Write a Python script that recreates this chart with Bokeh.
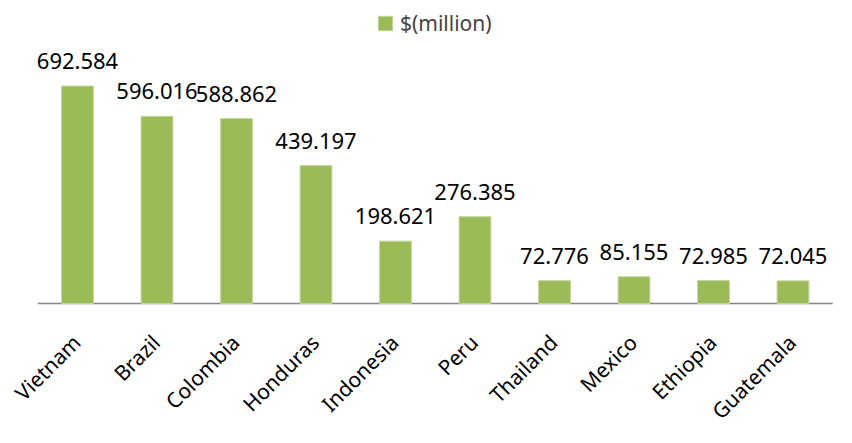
from bokeh.plotting import figure
from bokeh.models import ColumnDataSource, Legend, LegendItem, Range1d
from bokeh.core.properties import value
from bokeh.embed import file_html
from bokeh.resources import INLINE
import math

countries = ["Vietnam", "Brazil", "Colombia", "Honduras", "Indonesia", "Peru",
             "Thailand", "Mexico", "Ethiopia", "Guatemala"]
values = [692.584, 596.016, 588.862, 439.197, 198.621, 276.385,
          72.776, 85.155, 72.985, 72.045]
series_name = "$(million)"

FONT = "Noto Sans"
n = len(countries)
idx = list(range(n))
src = ColumnDataSource(dict(x=idx, name=countries, top=values,
                            label=[f"{v:.3f}" for v in values], zero=[0] * n))

W, H = 836, 427
STEP, C0 = 79.5, 77.0          # pixel spacing of categories, pixel centre of first
BASE, PXU = 303.0, 0.314        # baseline pixel row, pixels per unit
x_start = -C0 / STEP
y_end = BASE / PXU
p = figure(x_range=Range1d(x_start, x_start + W / STEP),
           y_range=Range1d(-(H - BASE) / PXU, y_end), width=W, height=H,
           output_backend="svg", toolbar_location=None,
           min_border_left=0, min_border_right=0, min_border_top=0, min_border_bottom=0)
p.outline_line_color = None
p.xgrid.grid_line_color = None
p.ygrid.grid_line_color = None
p.xaxis.visible = False
p.yaxis.visible = False

# category baseline
p.segment(x0=[-0.5], y0=[0], x1=[n - 0.5], y1=[0], line_color="#868686", line_width=1.5)

r = p.vbar(x="x", top="top", width=0.4, source=src, fill_color="#9BBB59",
           line_color="#C3D69B", line_width=1)
p.text(x="x", y="top", text="label", source=src, text_align="center", text_baseline="alphabetic",
       y_offset=-25, text_font=value(FONT), text_font_size="22px", text_color="#000000")
p.text(x="x", y="zero", text="name", source=src, angle=math.pi / 4, text_align="right",
       text_baseline="middle", x_offset=-1, y_offset=35, text_font=value(FONT),
       text_font_size="21px", text_color="#000000")

legend = Legend(items=[LegendItem(label=series_name, renderers=[r])], location=(376, 390),
                orientation="horizontal", border_line_color=None, background_fill_alpha=0,
                label_text_font=FONT, label_text_font_size="21px", glyph_width=18, glyph_height=18,
                margin=0, padding=2, label_standoff=6)
p.add_layout(legend, "center")

open("out.html", "w").write(file_html(p, INLINE))
